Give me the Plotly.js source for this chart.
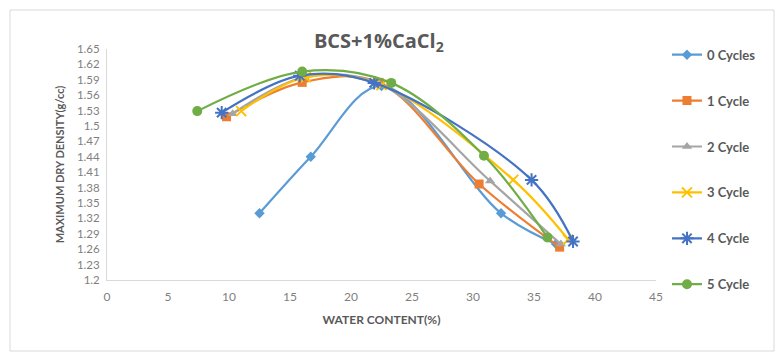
<!DOCTYPE html>
<html>
<head>
<meta charset="utf-8">
<script src="https://cdn.plot.ly/plotly-3.0.1.min.js"></script>
<style>html,body{margin:0;padding:0;background:#fff;}#chart{width:781px;height:353px;}</style>
</head>
<body>
<div id="chart"></div>
<script>
// Data
const seriesNames = ["0 Cycles", "1 Cycle", "2 Cycle", "3 Cycle", "4 Cycle", "5 Cycle"];
const water0 = [12.5, 16.7, 22.5, 32.3, 36.8];
const density0 = [1.33, 1.44, 1.578, 1.33, 1.27];
const water1 = [9.8, 16.0, 22.3, 30.5, 37.1];
const density1 = [1.518, 1.585, 1.585, 1.387, 1.264];
const water2 = [10.3, 16.2, 22.3, 31.4, 37.2];
const density2 = [1.524, 1.595, 1.583, 1.393, 1.27];
const water3 = [11.0, 16.3, 22.5, 33.3, 37.8];
const density3 = [1.529, 1.595, 1.58, 1.395, 1.279];
const water4 = [9.4, 15.8, 21.9, 34.8, 38.2];
const density4 = [1.526, 1.598, 1.584, 1.395, 1.275];
const water5 = [7.4, 16.0, 23.3, 30.9, 36.1];
const density5 = [1.529, 1.606, 1.584, 1.442, 1.283];
const yTickVals = [1.2, 1.23, 1.26, 1.29, 1.32, 1.35, 1.38, 1.41, 1.44, 1.47, 1.5, 1.53, 1.56, 1.59, 1.62, 1.65];
const yTickText = ["1.2", "1.23", "1.26", "1.29", "1.32", "1.35", "1.38", "1.41", "1.44", "1.47", "1.5", "1.53", "1.56", "1.59", "1.62", "1.65"];

const xs = [water0, water1, water2, water3, water4, water5];
const ys = [density0, density1, density2, density3, density4, density5];
const colors = ["#5B9BD5", "#ED7D31", "#A5A5A5", "#FFC000", "#4472C4", "#70AD47"];
const symbols = ["diamond", "square", "triangle-up", "x-thin-open", "asterisk-open", "circle"];
const sizes = [8, 9, 9, 10, 11, 10];

const traces = seriesNames.map((n, i) => ({
  x: xs[i], y: ys[i], name: n, type: "scatter", mode: "lines+markers",
  legendgroup: "g" + i,
  line: {color: colors[i], width: 2.2, shape: "spline", smoothing: 1},
  marker: {symbol: symbols[i], size: sizes[i], color: colors[i], line: {color: colors[i], width: (i === 3 || i === 4) ? 2 : 0}}
}));

const layout = {
  width: 781, height: 353,
  margin: {l: 107, r: 125, t: 49, b: 73},
  paper_bgcolor: "#fff", plot_bgcolor: "#fff",
  font: {family: "Lato, 'Open Sans', sans-serif", color: "#595959"},
  title: {text: "<b>BCS+1%CaCl<sub>2</sub></b>", x: 0.485, xanchor: "center", y: 0.885, yanchor: "middle", yref: "container",
          font: {size: 20, color: "#595959", family: "'Open Sans', sans-serif"}},
  xaxis: {range: [0, 45], dtick: 5, tick0: 0, showgrid: false, zeroline: false, showline: true, linecolor: "#d9d9d9", linewidth: 1,
          ticks: "outside", ticklen: 6, tickcolor: "rgba(0,0,0,0)", tickfont: {size: 12, color: "#7f7f7f"},
          title: {text: "<b>WATER CONTENT(%)</b>", font: {size: 12, color: "#595959"}, standoff: 12}},
  yaxis: {range: [1.2, 1.65], tickmode: "array", tickvals: yTickVals, ticktext: yTickText, showgrid: false, zeroline: false,
          showline: true, linecolor: "#d9d9d9", linewidth: 1, ticks: "outside", ticklen: 4, tickcolor: "rgba(0,0,0,0)",
          tickfont: {size: 11.5, color: "#7f7f7f"},
          title: {text: "<b>MAXIMUM DRY DENSITY(g/cc)</b>", font: {size: 11, color: "#595959"}, standoff: 10}},
  showlegend: true,
  legend: {x: 1.02, xanchor: "left", y: 1.04, yanchor: "top", tracegroupgap: 26, maxheight: 345,
           font: {size: 13, color: "#595959", family: "Lato, sans-serif", weight: "bold"}, bgcolor: "rgba(0,0,0,0)"},
  shapes: [{type: "rect", xref: "paper", yref: "paper",
            x0: -97/549, x1: 1 + 118/549, y0: -71/231, y1: 1 + 39/231,
            line: {color: "#d9d9d9", width: 1}, fillcolor: "rgba(0,0,0,0)"}]
};

Plotly.newPlot("chart", traces, layout, {displayModeBar: false, staticPlot: true});
</script>
</body>
</html>
